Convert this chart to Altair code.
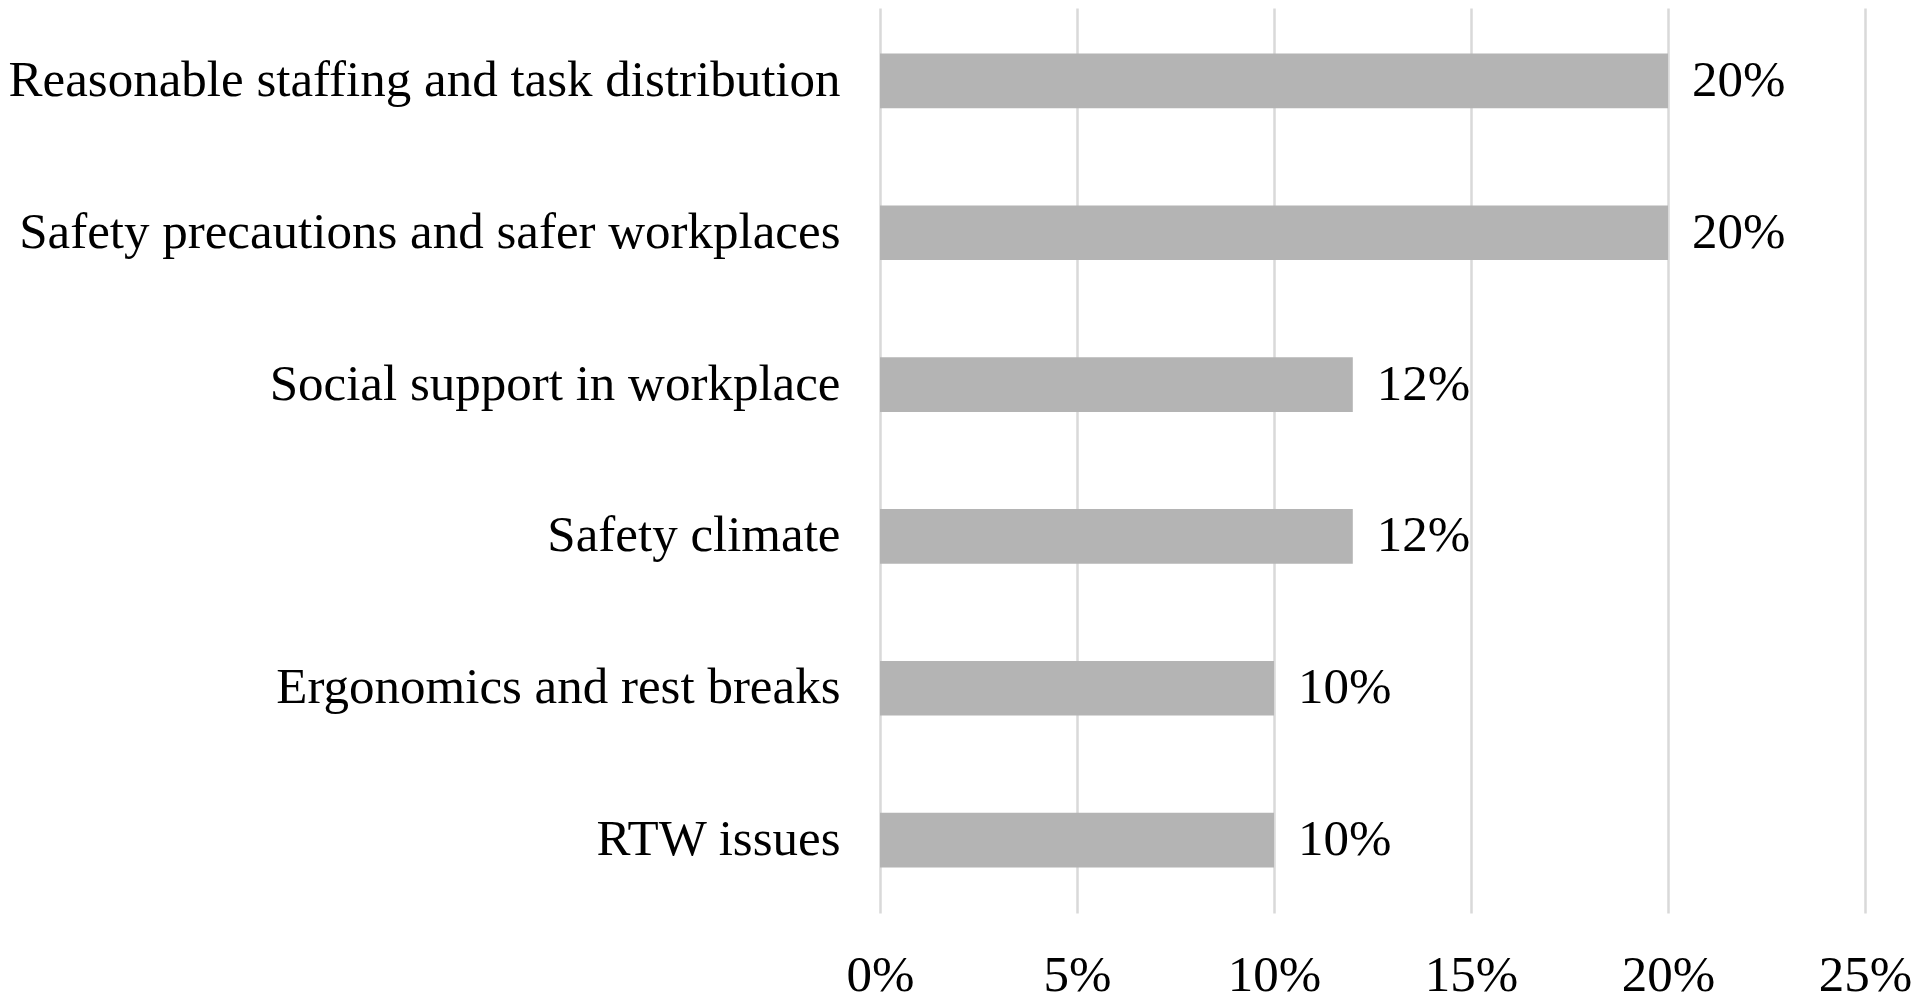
import altair as alt
import pandas as pd

categories = [
    "Reasonable staffing and task distribution",
    "Safety precautions and safer workplaces",
    "Social support in workplace",
    "Safety climate",
    "Ergonomics and rest breaks",
    "RTW issues",
]
values = [0.20, 0.20, 0.12, 0.12, 0.10, 0.10]
value_labels = ["20%", "20%", "12%", "12%", "10%", "10%"]
x_ticks = [0, 0.05, 0.10, 0.15, 0.20, 0.25]

df = pd.DataFrame({"cat": categories, "val": values, "lab": value_labels})

FONT = "Liberation Serif"
FS = 51

y = alt.Y(
    "cat:N",
    sort=categories,
    title=None,
    scale=alt.Scale(paddingInner=0.64, paddingOuter=0.3),
    axis=alt.Axis(
        labelFont=FONT,
        labelFontSize=FS,
        labelColor="#000000",
        labelPadding=40,
        labelLimit=1200,
        ticks=False,
        domain=False,
        grid=False,
    ),
)
x = alt.X(
    "val:Q",
    title=None,
    scale=alt.Scale(domain=[0, 0.25], nice=False),
    axis=alt.Axis(
        values=x_ticks,
        format=".0%",
        labelFont=FONT,
        labelFontSize=FS,
        labelColor="#000000",
        labelPadding=37,
        labelFlush=False,
        labelOverlap=False,
        ticks=False,
        domain=False,
        grid=True,
        gridColor="#d9d9d9",
        gridWidth=2.5,
    ),
)

bars = alt.Chart(df).mark_bar(color="#b4b4b4").encode(x=x, y=y)
text = alt.Chart(df).mark_text(
    align="left", baseline="middle", dx=24, font=FONT, fontSize=FS, color="#000000"
).encode(
    x="val:Q",
    y=alt.Y("cat:N", sort=categories),
    text="lab:N",
)

chart = (
    (bars + text)
    .properties(width=985, height=905, padding=0, background="#ffffff")
    .configure_view(stroke=None, strokeWidth=0)
)
chart.save("out.html", embed_options={"renderer": "svg", "actions": False})
